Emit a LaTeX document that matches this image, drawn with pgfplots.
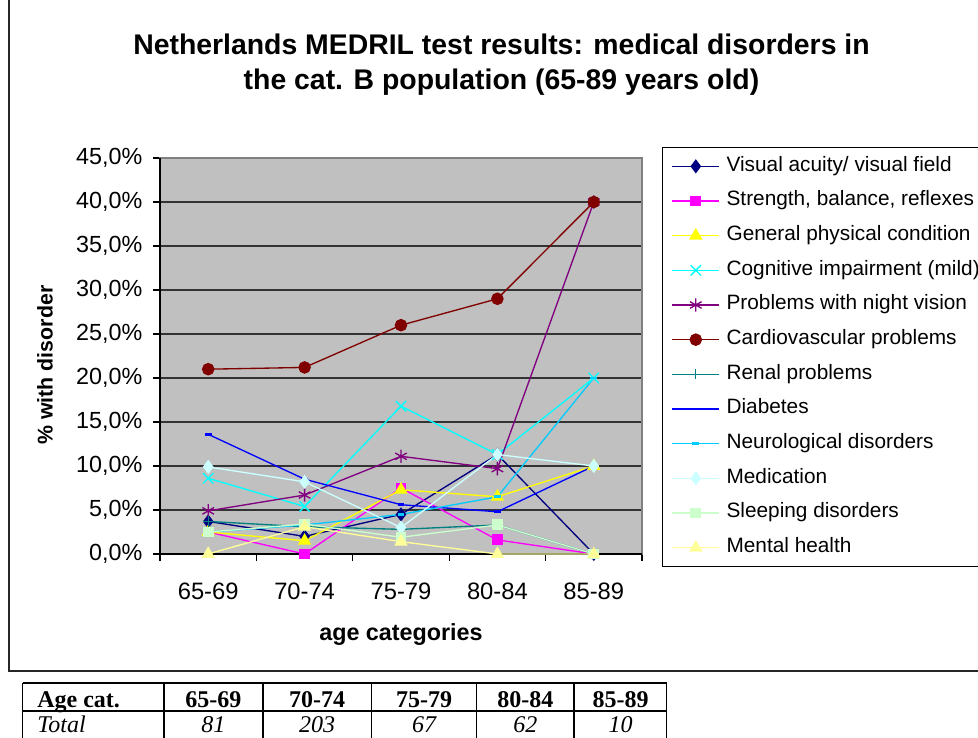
\documentclass[border=0pt]{standalone}
\usepackage{fontspec}
\setmainfont{Liberation Sans}
\newfontfamily\tabfont{Liberation Serif}
\usepackage{pgfplots}
\pgfplotsset{compat=1.18}

\definecolor{cVis}{HTML}{000080}
\definecolor{cStr}{HTML}{FF00FF}
\definecolor{cGen}{HTML}{FFFF00}
\definecolor{cCog}{HTML}{00FFFF}
\definecolor{cNig}{HTML}{800080}
\definecolor{cCar}{HTML}{800000}
\definecolor{cRen}{HTML}{008080}
\definecolor{cDia}{HTML}{0000FF}
\definecolor{cNeu}{HTML}{00CCFF}
\definecolor{cMed}{HTML}{CCFFFF}
\definecolor{cSle}{HTML}{CCFFCC}
\definecolor{cMen}{HTML}{FFFF99}
\definecolor{plotbg}{HTML}{C0C0C0}

\begin{document}
\begin{tikzpicture}
% outer chart frame
\draw[line width=1.1pt, black!85] (6.75pt,600pt) -- (6.75pt,50.25pt) -- (760pt,50.25pt);
\begin{axis}[
    at={(120pt,138pt)}, anchor=south west,
    scale only axis,
    width=361.5pt, height=297pt,
    set layers,
    clip=false,
    xmin=0.5, xmax=5.5,
    ymin=0, ymax=45,
    xtick={1,2,3,4,5},
    xticklabels={65-69,70-74,75-79,80-84,85-89},
    minor xtick={0.5,1.5,2.5,3.5,4.5,5.5},
    ytick={0,5,...,45},
    xtick pos=bottom, ytick pos=left,
    tick align=outside,
    major tick length=5.25pt, minor tick length=5.25pt,
    major x tick style={draw=none},
    minor x tick style={black, line width=0.8pt},
    major y tick style={black, line width=0.8pt},
    ymajorgrids,
    grid style={black!80, line width=0.9pt},
    axis line style={draw=black!50, line width=1pt},
    axis background/.style={fill=plotbg},
    /pgf/number format/assume math mode=true,
    yticklabel={\pgfmathprintnumber[fixed,fixed zerofill,precision=1,use comma]{\tick}\%},
    yticklabel style={font=\fontsize{17.5}{20}\selectfont, xshift=-4.5pt},
    xticklabel style={font=\fontsize{17.8}{20}\selectfont, yshift=-12.75pt},
    title={Netherlands MEDRIL test results: medical disorders in\\the cat. B population (65-89 years old)},
    title style={at={(axis description cs:0.7085,1.2146)}, anchor=center, align=center,
        font=\fontsize{21.3}{26.25}\selectfont\bfseries},
    xlabel={age categories},
    xlabel style={at={(axis description cs:0.5,-0.2045)}, anchor=center,
        font=\fontsize{17.5}{20}\selectfont\bfseries},
    ylabel={\% with disorder},
    ylabel style={at={(axis description cs:-0.2386,0.477)}, anchor=center,
        font=\fontsize{16}{20}\selectfont\bfseries},
    legend cell align=left,
    legend style={at={(1.0415,1.0278)}, anchor=north west, draw=black, line width=1pt,
        fill=white, font=\fontsize{15.6}{18}\selectfont,
        inner xsep=6.75pt, inner ysep=6.75pt, row sep=11.5pt, column sep=5pt,
        nodes={inner sep=0pt, text height=11pt, text depth=3.5pt}},
    legend image code/.code={\draw[line width=1pt, mark repeat=2, mark phase=2]
        plot coordinates {(0pt,0pt) (17.6pt,0pt) (35.2pt,0pt)};},
    every axis plot/.append style={line width=1pt},
]
\begin{pgfonlayer}{axis lines}
\draw[black, line width=1pt] (rel axis cs:0,1) -- (rel axis cs:0,0) -- (rel axis cs:1,0);
\end{pgfonlayer}

\addplot[cVis, mark=diamond*, mark size=4.5pt, mark options={fill=cVis}]
    coordinates {(1,3.7) (2,2.0) (3,4.5) (4,11.3) (5,0)};
\addlegendentry{Visual acuity/ visual field}
\addplot[cStr, mark=square*, mark size=3.6pt, mark options={fill=cStr}]
    coordinates {(1,2.5) (2,0) (3,7.5) (4,1.6) (5,0)};
\addlegendentry{Strength, balance, reflexes}
\addplot[cGen, mark=triangle*, mark size=4.8pt, mark options={fill=cGen}]
    coordinates {(1,2.5) (2,1.5) (3,7.3) (4,6.5) (5,10.0)};
\addlegendentry{General physical condition}
\addplot[cCog, mark=x, mark size=5.5pt]
    coordinates {(1,8.6) (2,5.4) (3,16.8) (4,11.3) (5,20.0)};
\addlegendentry{Cognitive impairment (mild)}
\addplot[cNig, mark=asterisk, mark size=5pt]
    coordinates {(1,4.9) (2,6.7) (3,11.1) (4,9.7) (5,40.0)};
\addlegendentry{Problems with night vision}
\addplot[cCar, mark=*, mark size=4.2pt, mark options={fill=cCar}]
    coordinates {(1,21.0) (2,21.2) (3,26.0) (4,29.0) (5,40.0)};
\addlegendentry{Cardiovascular problems}
\addplot[cRen, mark=+, mark size=3.8pt]
    coordinates {(1,3.7) (2,3.1) (3,2.8) (4,3.3) (5,0)};
\addlegendentry{Renal problems}
\addplot[cDia, mark=-, mark size=2.6pt, mark options={line width=2.2pt}]
    coordinates {(1,13.6) (2,8.5) (3,5.6) (4,4.8) (5,10.0)};
\addlegendentry{Diabetes}
\addplot[cNeu, mark=-, mark size=2.6pt, mark options={line width=2.2pt}]
    coordinates {(1,2.5) (2,3.3) (3,4.5) (4,6.5) (5,20.0)};
\addlegendentry{Neurological disorders}
\addplot[cMed, mark=diamond*, mark size=4.5pt, mark options={fill=cMed}]
    coordinates {(1,9.9) (2,8.2) (3,3.0) (4,11.3) (5,10.0)};
\addlegendentry{Medication}
\addplot[cSle, mark=square*, mark size=3.6pt, mark options={fill=cSle}]
    coordinates {(1,2.5) (2,3.4) (3,1.9) (4,3.3) (5,0)};
\addlegendentry{Sleeping disorders}
\addplot[cMen, mark=triangle*, mark size=4.8pt, mark options={fill=cMen}]
    coordinates {(1,0) (2,3.1) (3,1.4) (4,0) (5,0)};
\addlegendentry{Mental health}
\end{axis}

% table of totals below the chart
\draw[line width=1.1pt] (17pt,41.25pt) -- (500pt,41.25pt);
\draw[line width=1.1pt] (17pt,20.25pt) -- (500pt,20.25pt);
\foreach \xx in {17,123,197.25,278.8,357.5,430.5,500}
    \draw[line width=1.1pt] (\xx pt,41.25pt) -- (\xx pt,-2pt);
\begin{scope}[every node/.style={inner sep=0pt, font=\tabfont\fontsize{18}{20}\selectfont}]
\node[anchor=base west] at (27.75pt,23pt) {\bfseries Age cat.};
\node[anchor=base west] at (27.75pt,4pt) {\itshape Total};
\foreach \xx/\hd/\tt in {160.1/65-69/81, 237.8/70-74/203, 318/75-79/67, 394.1/80-84/62, 465.4/85-89/10} {
    \node[anchor=base] at (\xx pt,23pt) {\bfseries \hd};
    \node[anchor=base] at (\xx pt,4pt) {\itshape \tt};
}
\end{scope}
\pgfresetboundingbox
\path[use as bounding box] (0,0) rectangle (733.5pt,553.5pt);
\end{tikzpicture}
\end{document}
